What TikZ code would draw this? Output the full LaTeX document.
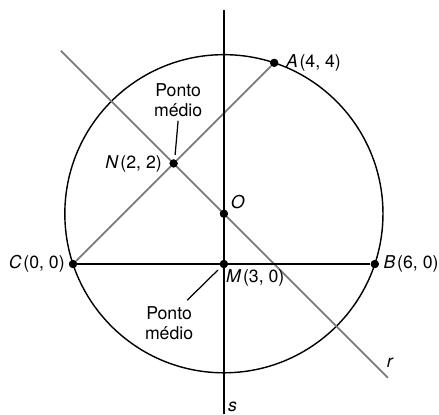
\documentclass[tikz,border=0pt]{standalone}
\usepackage{fontspec}
\setmainfont{TeX Gyre Heros}
\usepackage{xcolor}
\usetikzlibrary{positioning, calc}
\definecolor{myline}{HTML}{000000}
\definecolor{mygray}{HTML}{7A7A7A}
\tikzset{
point/.style={
circle,
fill=myline,
inner sep=0pt,
minimum size=4.6pt
},
lbl/.style={
font=\fontsize{10}{12}\selectfont,
inner sep=1pt
},
note/.style={
font=\fontsize{10}{11.3}\selectfont,
align=center,
inner sep=1pt
},
blackline/.style={
draw=myline,
line width=0.8pt
},
grayline/.style={
draw=mygray,
line width=1.0pt
},
callout/.style={
draw=myline,
line width=0.7pt
}
}

\begin{document}
\begin{tikzpicture}[x=1cm, y=1cm]
\useasboundingbox (-1.451,-2.982) rectangle (7.276,5.249);

% points
\coordinate (Ctr) at (3,1);
\node[point] (C) at (0,0) {};
\node[point] (B) at (6,0) {};
\node[point] (A) at (4,4) {};
\node[point] (M) at (3,0) {};
\node[point] (N) at (2,2) {};
\node[point] (O) at (3,1) {};

% circle
\draw[blackline] (Ctr) circle ({sqrt(10)});

% lines r and s
\coordinate (rtop) at (-0.24,4.24);
\coordinate (rbot) at (6.26,-2.26);
\coordinate (stop) at (3,5.05);
\coordinate (sbot) at (3,-2.982);
\draw[grayline] (rtop) -- (rbot);
\draw[grayline] (C) -- (A);
\draw[blackline] (stop) -- (sbot);
\draw[blackline] (C) -- (B);

% redraw points on top
\foreach \p in {C, B, A, M, N, O} {
  \fill[myline] (\p) circle (2.3pt);
}

% labels
\node[lbl, right=3pt of A] (lblA) {\textit{A}\kern1pt(4, 4)};
\node[lbl, left=3pt of N] (lblN) {\textit{N}\kern1pt(2, 2)};
\node[lbl, above right=0pt and 1pt of O] (lblO) {\textit{O}};
\node[lbl, left=1pt of C] (lblC) {\textit{C}\kern1pt(0, 0)};
\node[lbl, right=1.3pt of B] (lblB) {\textit{B}\kern1pt(6, 0)};
\node[lbl, anchor=north west] (lblM) at ($(M)+(0.0,-0.07)$) {\textit{M}\kern1pt(3, 0)};
\node[lbl] (lblr) at (6.31,-1.97) {\textit{r}};
\node[lbl] (lbls) at (3.17,-2.84) {\textit{s}};

% callouts
\node[note] (noteN) at (2.09,3.26) {Ponto\\médio};
\node[note] (noteM) at (1.91,-1.17) {Ponto\\médio};
\coordinate (calloutNtip) at (2.03,2.17);
\coordinate (calloutMtip) at (2.88,-0.12);
\coordinate (calloutMend) at (2.27,-0.72);
\draw[callout] (noteN.south) ++(0,-0.04) -- (calloutNtip);
\draw[callout] (calloutMend) -- (calloutMtip);

\end{tikzpicture}
\end{document}
